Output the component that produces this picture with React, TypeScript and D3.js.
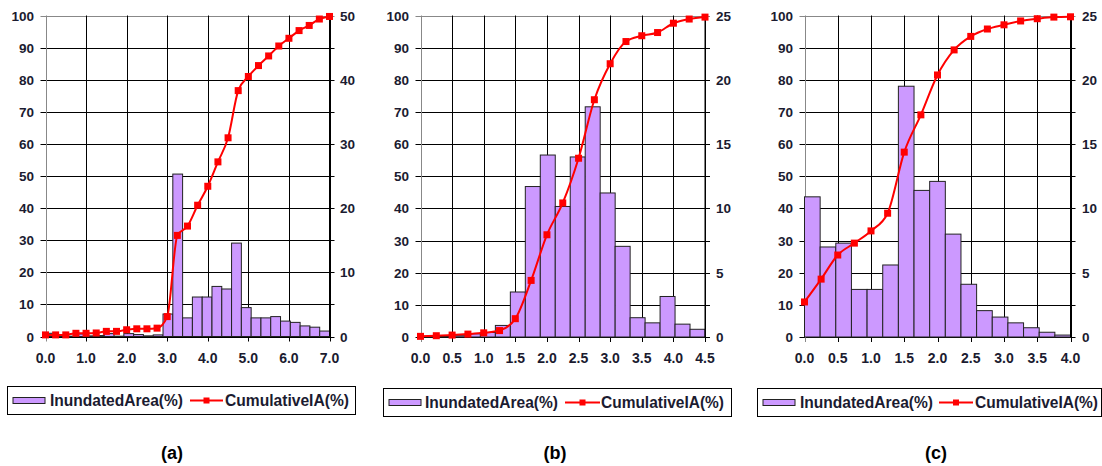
import React from "react";
import * as d3 from "d3";

// ---------- DATA ----------
// Panel (a): x 0..7.0
const xA = [0, 0.25, 0.5, 0.75, 1.0, 1.25, 1.5, 1.75, 2.0, 2.25, 2.5, 2.75, 3.0, 3.25, 3.5, 3.75, 4.0, 4.25, 4.5, 4.75, 5.0, 5.25, 5.5, 5.75, 6.0, 6.25, 6.5, 6.75, 7.0];
const areaA = [0.5, 0.05, 0.05, 0.4, 0.1, 0.15, 0.45, 0.05, 0.45, 0.3, 0.1, 0.25, 3.5, 25.3, 2.9, 6.15, 6.15, 7.8, 7.4, 14.55, 4.5, 2.9, 2.9, 3.1, 2.4, 2.2, 1.65, 1.45, 0.85];
const cumA = [0.5, 0.5, 0.5, 1.0, 1.0, 1.1, 1.6, 1.6, 2.1, 2.4, 2.4, 2.6, 6.2, 31.5, 34.4, 40.9, 46.8, 54.4, 61.9, 76.6, 81.0, 84.4, 87.4, 90.5, 92.9, 95.3, 96.9, 98.9, 99.7];
const ticksA = ["0.0", "1.0", "2.0", "3.0", "4.0", "5.0", "6.0", "7.0"];
const tickValsA = [0, 1, 2, 3, 4, 5, 6, 7];

// Panel (b): x 0..4.5
const xB = [0, 0.25, 0.5, 0.75, 1.0, 1.25, 1.5, 1.75, 2.0, 2.25, 2.5, 2.75, 3.0, 3.25, 3.5, 3.75, 4.0, 4.25, 4.5];
const areaB = [0.05, 0.05, 0.1, 0.25, 0.35, 0.9, 3.5, 11.7, 14.15, 10.15, 14.0, 17.9, 11.2, 7.05, 1.5, 1.1, 3.15, 1.0, 0.6];
const cumB = [0.2, 0.4, 0.6, 0.9, 1.3, 2.0, 5.7, 17.6, 31.8, 41.7, 55.6, 73.8, 85.0, 91.9, 93.7, 94.7, 97.6, 98.9, 99.5];
const ticksB = ["0.0", "0.5", "1.0", "1.5", "2.0", "2.5", "3.0", "3.5", "4.0", "4.5"];
const tickValsB = [0, 0.5, 1, 1.5, 2, 2.5, 3, 3.5, 4, 4.5];

// Panel (c): x 0..4.0
const xC = [0, 0.25, 0.5, 0.75, 1.0, 1.25, 1.5, 1.75, 2.0, 2.25, 2.5, 2.75, 3.0, 3.25, 3.5, 3.75, 4.0];
const areaC = [10.9, 7.0, 7.3, 3.7, 3.7, 5.6, 19.5, 11.4, 12.1, 8.0, 4.1, 2.05, 1.55, 1.1, 0.72, 0.37, 0.15];
const cumC = [10.9, 18.0, 25.5, 29.2, 33.0, 38.5, 57.5, 69.1, 81.5, 89.3, 93.5, 95.8, 97.1, 98.3, 99.0, 99.5, 99.6];
const ticksC = ["0.0", "0.5", "1.0", "1.5", "2.0", "2.5", "3.0", "3.5", "4.0"];
const tickValsC = [0, 0.5, 1, 1.5, 2, 2.5, 3, 3.5, 4];

const leftTicks = [0, 10, 20, 30, 40, 50, 60, 70, 80, 90, 100];
const rightTicksA = [0, 10, 20, 30, 40, 50];
const rightTicksBC = [0, 5, 10, 15, 20, 25];

const seriesNames = ["InundatedArea(%)", "CumulativeIA(%)"];
const panelLabels = ["(a)", "(b)", "(c)"];

// ---------- STYLE ----------
const BAR_FILL = "#cc99ff";
const BAR_STROKE = "#222222";
const LINE = "#ff0000";
const TXT = "#1b1b30";
const FONT = "'Liberation Sans', Arial, sans-serif";
const NARROW = "'Liberation Sans Narrow', 'Arial Narrow', 'Liberation Sans', Arial, sans-serif";

type Panel = {
  x: number[]; area: number[]; cum: number[]; ticks: string[]; tickVals: number[];
  xmax: number; rmax: number; rTicks: number[];
  left: number; right: number; top: number; bottom: number;
  leftLabelX: number; rightLabelX: number;
  legend: { x0: number; x1: number; y0: number; y1: number; sw: number; t1: number; l0: number; l1: number; t2: number; t2end: number; t1end: number };
  label: string; labelX: number;
};

const panels: Panel[] = [
  {
    x: xA, area: areaA, cum: cumA, ticks: ticksA, tickVals: tickValsA, xmax: 7, rmax: 50, rTicks: rightTicksA,
    left: 45.5, right: 329.5, top: 15.5, bottom: 336.5, leftLabelX: 34, rightLabelX: 340,
    legend: { x0: 7.5, x1: 355.5, y0: 386.5, y1: 414.5, sw: 13, t1: 50, t1end: 183, l0: 190, l1: 223, t2: 225, t2end: 349 },
    label: panelLabels[0], labelX: 172,
  },
  {
    x: xB, area: areaB, cum: cumB, ticks: ticksB, tickVals: tickValsB, xmax: 4.5, rmax: 25, rTicks: rightTicksBC,
    left: 420.5, right: 705, top: 15.5, bottom: 337, leftLabelX: 409, rightLabelX: 716,
    legend: { x0: 383.5, x1: 731.5, y0: 388.5, y1: 416.5, sw: 389, t1: 425, t1end: 558, l0: 565, l1: 600, t2: 601, t2end: 724 },
    label: panelLabels[1], labelX: 555,
  },
  {
    x: xC, area: areaC, cum: cumC, ticks: ticksC, tickVals: tickValsC, xmax: 4, rmax: 25, rTicks: rightTicksBC,
    left: 804.5, right: 1070.5, top: 15.5, bottom: 337, leftLabelX: 793, rightLabelX: 1082,
    legend: { x0: 757.5, x1: 1101.5, y0: 388.5, y1: 416.5, sw: 763, t1: 800, t1end: 933, l0: 939, l1: 973, t2: 975, t2end: 1098 },
    label: panelLabels[2], labelX: 936,
  },
];

function ChartPanel({ p }: { p: Panel }) {
  const xs = d3.scaleLinear().domain([0, p.xmax]).range([p.left, p.right]);
  const yL = d3.scaleLinear().domain([0, 100]).range([p.bottom, p.top]);
  const yR = d3.scaleLinear().domain([0, p.rmax]).range([p.bottom, p.top]);
  const band = d3.scaleBand<number>().domain(d3.range(p.area.length)).range([p.left, p.right]).padding(0);
  const line = d3.line<number>().x((_, i) => xs(p.x[i])).y((d) => yL(d)).curve(d3.curveMonotoneX);
  const lg = p.legend;
  const lgMid = (lg.y0 + lg.y1) / 2;

  return (
    <g>
      {leftTicks.map((t) => (
        <line key={"h" + t} x1={p.left - 5} x2={p.right + 5} y1={Math.round(yL(t)) + 0.5} y2={Math.round(yL(t)) + 0.5}
          stroke={t === 100 ? "#888" : "#000"} strokeWidth={1} />
      ))}
      {p.tickVals.map((t) => (
        <line key={"v" + t} x1={Math.round(xs(t)) + 0.5} x2={Math.round(xs(t)) + 0.5} y1={p.top} y2={p.bottom + 5}
          stroke={t === 0 ? "#888" : "#000"} strokeWidth={1} />
      ))}
      {p.area.map((v, i) => (
        <rect key={"b" + i} x={band(i)!} width={band.bandwidth()} y={yR(v)} height={p.bottom - yR(v)}
          fill={BAR_FILL} stroke={BAR_STROKE} strokeWidth={1} />
      ))}
      <line x1={p.right} x2={p.right} y1={p.top} y2={p.bottom} stroke="#000" />
      <path d={line(p.cum) || ""} fill="none" stroke={LINE} strokeWidth={2} />
      {p.cum.map((v, i) => (
        <rect key={"m" + i} x={xs(p.x[i]) - 3.5} y={yL(v) - 3.5} width={7} height={7} fill={LINE} />
      ))}
      {leftTicks.map((t) => (
        <text key={"lt" + t} x={p.leftLabelX} y={yL(t) + 5} textAnchor="end" fontFamily={FONT} fontWeight="bold"
          fontSize={13.5} fill={TXT}>{t}</text>
      ))}
      {p.rTicks.map((t) => (
        <text key={"rt" + t} x={p.rightLabelX} y={yR(t) + 5} textAnchor="start" fontFamily={FONT} fontWeight="bold"
          fontSize={13.5} fill={TXT}>{t}</text>
      ))}
      {p.tickVals.map((t, i) => (
        <text key={"xt" + t} x={xs(t)} y={p.bottom + 26} textAnchor="middle" fontFamily={FONT} fontWeight="bold"
          fontSize={14} fill={TXT}>{p.ticks[i]}</text>
      ))}
      <rect x={lg.x0} y={lg.y0} width={lg.x1 - lg.x0} height={lg.y1 - lg.y0} fill="#fff" stroke="#000" strokeWidth={1} />
      <rect x={lg.sw} y={lgMid - 3} width={32} height={6} fill={BAR_FILL} stroke={BAR_STROKE} strokeWidth={1} />
      <text x={lg.t1} y={lgMid + 5.5} fontFamily={NARROW} fontWeight="bold" fontSize={16} fill={TXT}
        textLength={lg.t1end - lg.t1} lengthAdjust="spacingAndGlyphs">{seriesNames[0]}</text>
      <line x1={lg.l0} x2={lg.l1} y1={lgMid} y2={lgMid} stroke={LINE} strokeWidth={2} />
      <rect x={(lg.l0 + lg.l1) / 2 - 3} y={lgMid - 3} width={6} height={6} fill={LINE} />
      <text x={lg.t2} y={lgMid + 5.5} fontFamily={NARROW} fontWeight="bold" fontSize={16} fill={TXT}
        textLength={lg.t2end - lg.t2} lengthAdjust="spacingAndGlyphs">{seriesNames[1]}</text>
      <text x={p.labelX} y={459} textAnchor="middle" fontFamily={FONT} fontWeight="bold" fontSize={18} fill="#000">{p.label}</text>
    </g>
  );
}

export default function App() {
  return (
    <svg width={1102} height={466} style={{ position: "absolute", left: 0, top: 0, background: "#fff" }}>
      <rect x={0} y={0} width={1102} height={466} fill="#fff" />
      {panels.map((p, i) => (
        <ChartPanel key={i} p={p} />
      ))}
    </svg>
  );
}
